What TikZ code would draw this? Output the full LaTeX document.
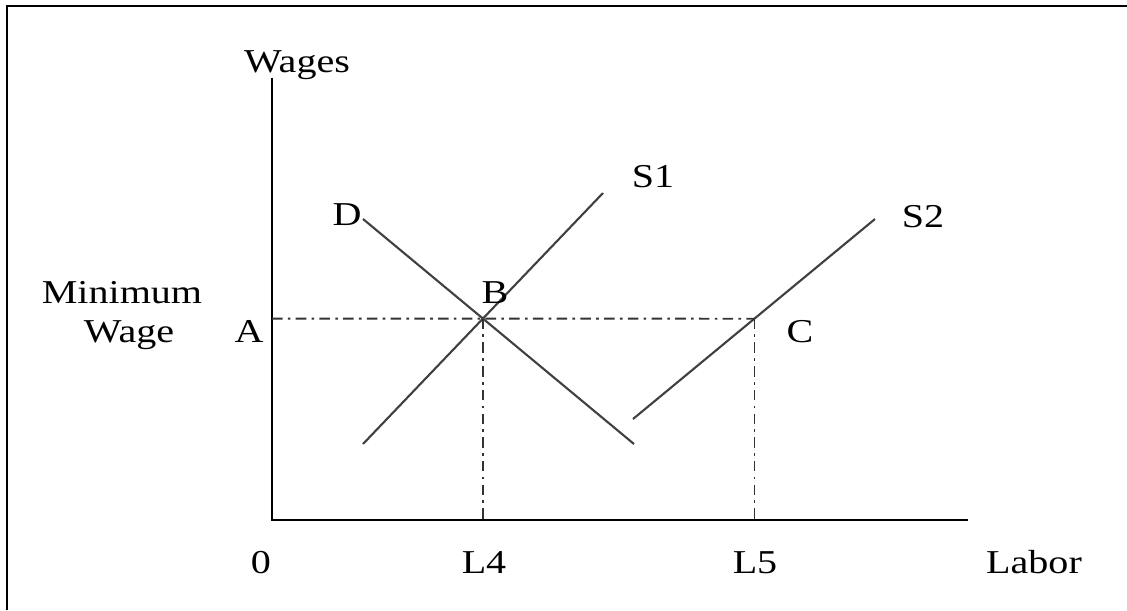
\documentclass[tikz,border=0pt]{standalone}
\usepackage{fontspec}
\setmainfont{Liberation Serif}[FakeStretch=1.2]
\usetikzlibrary{positioning,calc}

\begin{document}
\begin{tikzpicture}[
  x=0.02cm, y=-0.02cm,
  font=\fontsize{19}{22.2}\selectfont,
  lbl/.style={inner sep=0pt, anchor=base, text=black},
  frame/.style={draw=black, line width=1.2pt},
  axis/.style={draw=black, line width=1pt},
  curve/.style={draw=black!75, line width=1.2pt},
  guide/.style={draw=black!80, line width=1pt, dash pattern=on 6pt off 3pt on 1.5pt off 3pt},
]
\useasboundingbox (0,0) rectangle (1127,610);
% ---------------- frame ----------------
\coordinate (fbl) at (7,610);
\coordinate (ftl) at (7,6);
\coordinate (ftr) at (1127,6);
\draw[frame] (fbl) -- (ftl) -- (ftr);
% ---------------- axes ----------------
\coordinate (O) at (272,520);
\coordinate (ytop) at (272,78);
\coordinate (xend) at (968,520);
\draw[axis] (ytop) -- (O) -- (xend);
% ---------------- demand and supply ----------------
\coordinate (d1) at (363,219);  \coordinate (d2) at (634,444);
\coordinate (s1a) at (363,444); \coordinate (s1b) at (603,193);
\coordinate (s2a) at (633,419); \coordinate (s2b) at (875,219);
\draw[curve] (d1) -- (d2);
\draw[curve] (s1a) -- (s1b);
\draw[curve] (s2a) -- (s2b);
\coordinate (ptB) at (intersection of d1--d2 and s1a--s1b);
\coordinate (ptA) at (ytop |- ptB);
\coordinate (ptC) at (intersection of s2a--s2b and ptA--ptB);
\draw[guide] (ptA) -- (ptC);
\draw[guide] (ptB) -- (ptB |- O);
\draw[guide] (ptC) -- (ptC |- O);
% ---------------- labels ----------------
\node[lbl] (wages) at (297,72) {Wages};
\node[lbl] (minimum) at (122,303) {Minimum};
\node[lbl] (wage) at (129,342) {Wage};
\node[lbl] (labA) at (249,342) {A};
\node[lbl] (labB) at (495,303) {B};
\node[lbl] (labC) at (800,342) {C};
\node[lbl] (labD) at (347,225) {D};
\node[lbl] (labS1) at (653,187) {S1};
\node[lbl] (labS2) at (923,227) {S2};
\node[lbl] (zero) at (261,573) {0};
\node[lbl] (labL4) at (484,573) {L4};
\node[lbl] (labL5) at (755,573) {L5};
\node[lbl] (labor) at (1034,573) {Labor};
\end{tikzpicture}
\end{document}
